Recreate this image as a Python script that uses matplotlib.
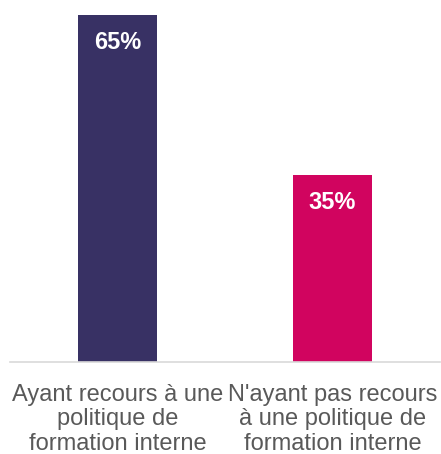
import matplotlib

matplotlib.use("Agg")
import matplotlib.pyplot as plt

categories = [
    "Ayant recours à une\npolitique de\nformation interne",
    "N'ayant pas recours\nà une politique de\nformation interne",
]
values = [65, 35]
value_labels = ["65%", "35%"]
colors = ["#383164", "#D1045F"]

plt.rcParams["font.family"] = ["Liberation Sans", "DejaVu Sans"]

fig = plt.figure(figsize=(4.41, 4.54), dpi=100)
ax = fig.add_axes([10 / 441, 92 / 454, 430 / 441, 347 / 454])

x = list(range(len(categories)))
bars = ax.bar(x, values, width=0.372, color=colors)

for bar, label in zip(bars, value_labels):
    ax.annotate(
        label,
        (bar.get_x() + bar.get_width() / 2, bar.get_height()),
        xytext=(0, -20),
        textcoords="offset points",
        ha="center",
        va="center",
        color="white",
        fontsize=17,
        fontweight="bold",
    )

ax.set_xlim(-0.5, 1.5)
ax.set_ylim(0, 65)
ax.set_xticks(x)
ax.set_xticklabels(categories, fontsize=17, color="#595959", linespacing=1.15)
ax.tick_params(axis="x", length=0, pad=15.5)
ax.set_yticks([])
for side in ["top", "right", "left"]:
    ax.spines[side].set_visible(False)
ax.spines["bottom"].set_color("#D9D9D9")
ax.spines["bottom"].set_linewidth(1.2)

fig.savefig("out.png", dpi=100)
